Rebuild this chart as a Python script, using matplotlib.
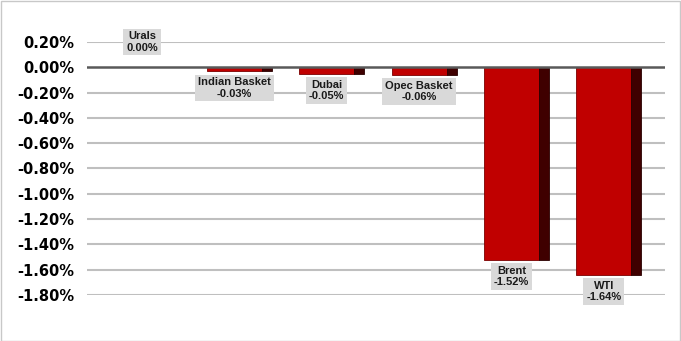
import matplotlib
matplotlib.use("Agg")
import matplotlib.pyplot as plt
from matplotlib.patches import Rectangle

categories = ["Urals", "Indian Basket", "Dubai", "Opec Basket", "Brent", "WTI"]
values = [0.00, -0.03, -0.05, -0.06, -1.52, -1.64]
labels = ["0.00%", "-0.03%", "-0.05%", "-0.06%", "-1.52%", "-1.64%"]
yticks = [0.2, 0.0, -0.2, -0.4, -0.6, -0.8, -1.0, -1.2, -1.4, -1.6, -1.8]

fig = plt.figure(figsize=(6.81, 3.41), dpi=100)
fig.patches.append(Rectangle((0.5/681, 0.5/341), 1 - 1.5/681, 1 - 1.5/341,
                             transform=fig.transFigure, fill=False,
                             edgecolor="#c8c8c8", linewidth=1.0))
ax = fig.add_axes([87/681, 1 - 295/341, (665 - 87)/681, (295 - 42)/341])
ax.set_ylim(-1.8, 0.2)
ax.set_xlim(-0.65, 5.61)

for t in yticks:
    if t == 0:
        continue
    ax.axhline(t, color="#bfbfbf", linewidth=1.5, zorder=0)

front_w = 0.596
side_w = 0.108
x = list(range(len(categories)))
front_left = [xi - 0.352 for xi in x]
side_left = [xi + 0.244 for xi in x]
ax.bar(front_left, values, width=front_w, align="edge", color="#c00000",
       edgecolor="#7a0000", linewidth=0.6, zorder=2)
ax.bar(side_left, values, width=side_w, align="edge", color="#3f0000",
       edgecolor="#2a0000", linewidth=0.6, zorder=2)
ax.axhline(0, color="#595959", linewidth=1.8, zorder=3)

box = dict(boxstyle="square,pad=0.25", fc="#d9d9d9", ec="none")
for xi, v, name, lab in zip(x, values, categories, labels):
    cx = xi - 0.054
    if v == 0:
        ax.annotate(f"{name}\n{lab}", (cx, 0.2), ha="center", va="center",
                    fontsize=8, fontweight="bold", family="Liberation Sans",
                    color="#1a1a1a", linespacing=1.15, bbox=box, zorder=4)
    else:
        ax.annotate(f"{name}\n{lab}", (cx, v), xytext=(0, -4.5),
                    textcoords="offset points", ha="center", va="top",
                    fontsize=8, fontweight="bold", family="Liberation Sans",
                    color="#1a1a1a", linespacing=1.15, bbox=box, zorder=4)

ax.set_yticks(yticks)
ax.set_yticklabels([f"{t:.2f}%" for t in yticks], fontsize=10.5, fontweight="bold",
                   family="DejaVu Sans")
ax.tick_params(axis="y", length=0, pad=9)
ax.set_xticks([])
for s in ax.spines.values():
    s.set_visible(False)

fig.savefig("out.png", dpi=100)
